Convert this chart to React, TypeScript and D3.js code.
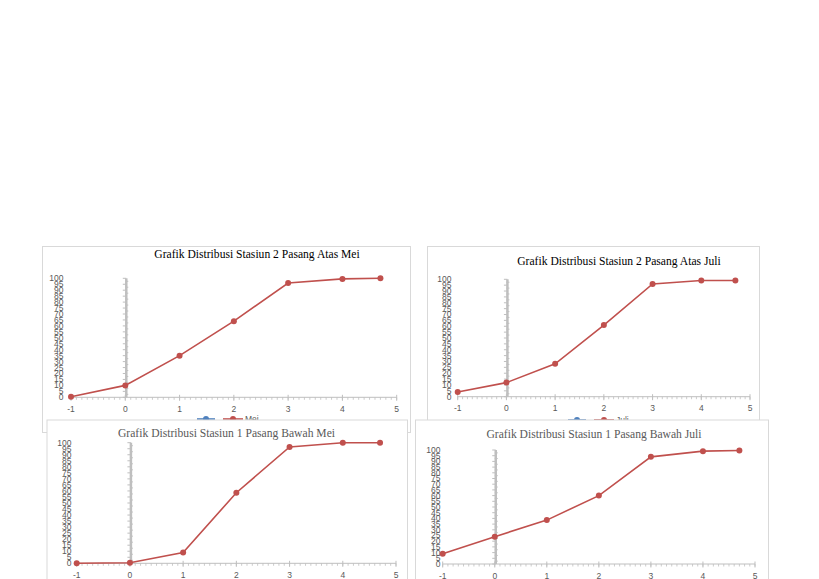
import React from 'react';
import * as d3 from 'd3';

// values
const xValues = [-1, 0, 1, 2, 3, 4, 4.7];
const atasMei = [0.5, 10, 35, 64, 96, 99.5, 100];
const atasJuli = [4, 12, 28, 61, 96, 99, 99];
const bawahMei = [0, 0.5, 9, 58.5, 96.5, 100, 100];
const bawahJuli = [9, 24, 38.5, 60, 94, 99, 99.5];

const xTicks = [-1, 0, 1, 2, 3, 4, 5];
const yTicks = [0, 5, 10, 15, 20, 25, 30, 35, 40, 45, 50, 55, 60, 65, 70, 75, 80, 85, 90, 95, 100];

const RED = '#c0504d';
const BLUE = '#4f81bd';
const AXIS = '#bfbfbf';
const LABEL = '#595959';

type Panel = {
  box: [number, number, number, number];
  xr: [number, number];
  yr: [number, number];
  title: string;
  titleX: number;
  titleY: number;
  titleColor: string;
  labelRight: number;
  legend?: { x: number; y: number; name: string };
  values: number[];
};

const Chart: React.FC<{ p: Panel }> = ({ p }) => {
  const x = d3.scaleLinear().domain([-1, 5]).range(p.xr);
  const y = d3.scaleLinear().domain([0, 100]).range(p.yr);
  const pts = xValues.map((v, i) => [v, p.values[i]] as [number, number]);
  const line = d3.line<[number, number]>().x(d => x(d[0])).y(d => y(d[1]));
  const minor = d3.range(-1, 5.001, 0.1);
  const yMinor = d3.range(0, 100.001, 2.5);
  const [bx, by, bw, bh] = p.box;
  const font = '"Liberation Sans", Arial, sans-serif';
  const lg = p.legend;

  return (
    <g>
      <rect x={bx} y={by} width={bw} height={bh} fill="#fff" stroke="#d9d9d9" strokeWidth={1} />
      <text x={p.titleX} y={p.titleY} textAnchor="middle" fontFamily='"Liberation Serif", "Times New Roman", serif'
        fontSize={11.6} fill={p.titleColor}>{p.title}</text>

      {/* x axis */}
      <line x1={x(-1)} x2={x(5)} y1={y(0)} y2={y(0)} stroke={AXIS} strokeWidth={1} />
      {minor.map((t, i) => (
        <line key={'m' + i} x1={x(t)} x2={x(t)} y1={y(0)} y2={y(0) + 2.5} stroke={AXIS} strokeWidth={0.8} />
      ))}
      {xTicks.map(t => (
        <g key={'xt' + t}>
          <line x1={x(t)} x2={x(t)} y1={y(0) - 2.5} y2={y(0) + 3.5} stroke={AXIS} strokeWidth={1} />
          <text x={x(t)} y={y(0) + 14.5} textAnchor="middle" fontFamily={font} fontSize={8.5} fill={LABEL}>{t}</text>
        </g>
      ))}

      {/* y axis sits at x = 0 */}
      <line x1={x(0) + 1} x2={x(0) + 1} y1={y(0)} y2={y(100)} stroke={AXIS} strokeWidth={2.5} />
      {yMinor.map((t, i) => (
        <line key={'ym' + i} x1={x(0) - (i % 2 === 0 ? 2.5 : 0)} x2={x(0) + (i % 2 === 0 ? 1 : 3)} y1={y(t)} y2={y(t)}
          stroke={AXIS} strokeWidth={1} />
      ))}
      {yTicks.map(t => (
        <text key={'yt' + t} x={p.labelRight} y={y(t)} dy="0.35em" textAnchor="end" fontFamily={font}
          fontSize={8.5} fill={LABEL}>{t}</text>
      ))}

      {/* series */}
      <path d={line(pts) ?? ''} fill="none" stroke={RED} strokeWidth={1.6} />
      {pts.map((d, i) => (
        <circle key={'c' + i} cx={x(d[0])} cy={y(d[1])} r={3} fill={RED} />
      ))}

      {/* legend, mostly hidden under the next panel */}
      {lg && (
        <g>
          <line x1={lg.x} x2={lg.x + 18} y1={lg.y} y2={lg.y} stroke={BLUE} strokeWidth={1.6} />
          <circle cx={lg.x + 9} cy={lg.y} r={3} fill={BLUE} />
          <line x1={lg.x + 26} x2={lg.x + 46} y1={lg.y} y2={lg.y} stroke={RED} strokeWidth={1.6} />
          <circle cx={lg.x + 36} cy={lg.y} r={3} fill={RED} />
          <text x={lg.x + 48} y={lg.y + 3} fontFamily={font} fontSize={8.5} fill={LABEL}>{lg.name}</text>
        </g>
      )}
    </g>
  );
};

const panels: Panel[] = [
  {
    box: [42.5, 246.5, 368, 186], xr: [71, 396.7], yr: [397.3, 278.3],
    title: 'Grafik Distribusi Stasiun 2 Pasang Atas Mei', titleX: 257, titleY: 258, titleColor: '#000',
    labelRight: 63.5, legend: { x: 197, y: 419, name: 'Mei' }, values: atasMei,
  },
  {
    box: [427.5, 246.5, 332, 180], xr: [457.7, 750], yr: [396.7, 279.3],
    title: 'Grafik Distribusi Stasiun 2 Pasang Atas Juli', titleX: 619, titleY: 265, titleColor: '#000',
    labelRight: 451.5, legend: { x: 568, y: 420, name: 'Juli' }, values: atasJuli,
  },
  {
    box: [47, 420, 360.5, 200], xr: [76.7, 396], yr: [563.3, 442.7],
    title: 'Grafik Distribusi Stasiun 1 Pasang Bawah Mei', titleX: 226.5, titleY: 436.5, titleColor: LABEL,
    labelRight: 71.5, values: bawahMei,
  },
  {
    box: [415.5, 420, 353, 200], xr: [442.7, 755], yr: [564, 450],
    title: 'Grafik Distribusi Stasiun 1 Pasang Bawah Juli', titleX: 594, titleY: 438, titleColor: LABEL,
    labelRight: 440.5, values: bawahJuli,
  },
];

const App: React.FC = () => (
  <svg width={819} height={579} style={{ position: 'absolute', left: 0, top: 0 }}>
    <rect width={819} height={579} fill="#fff" />
    {panels.map((p, i) => <Chart key={i} p={p} />)}
  </svg>
);

export default App;
